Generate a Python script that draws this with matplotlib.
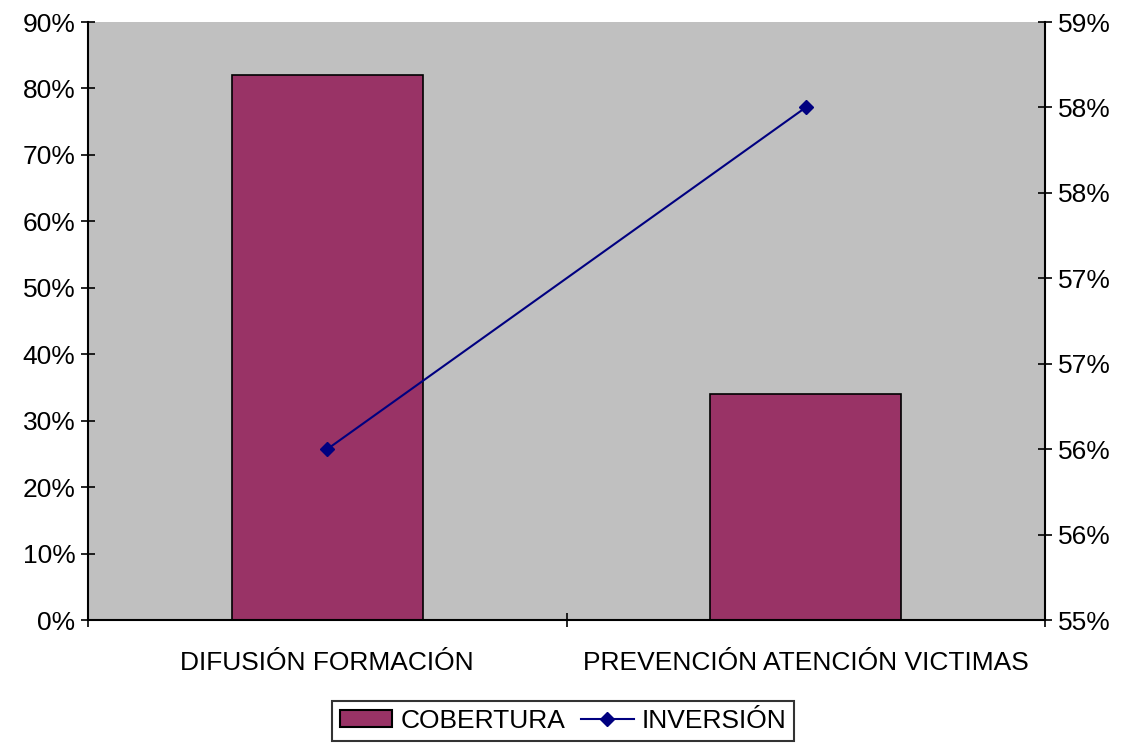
import math

import matplotlib
matplotlib.use("Agg")
import matplotlib.pyplot as plt
from matplotlib.lines import Line2D
from matplotlib.patches import Patch
from matplotlib.ticker import FuncFormatter

plt.rcParams["font.family"] = ["Liberation Sans", "DejaVu Sans"]

categories = ["DIFUSIÓN FORMACIÓN", "PREVENCIÓN ATENCIÓN VICTIMAS"]
cobertura = [82, 34]       # % (left axis)
inversion = [56.0, 58.0]   # % (right axis)

BAR_COLOR = "#993366"
LINE_COLOR = "#000080"
FS = 19


def pct_round(v, _pos=None):
    # Excel-style half-up rounding for the percent labels
    return f"{int(math.floor(v + 0.5 + 1e-9))}%"


fig = plt.figure(figsize=(11.26, 7.47), dpi=100)
ax = fig.add_axes([88 / 1126, 1 - 620 / 747, (1045 - 88) / 1126, (620 - 22) / 747])
ax.set_facecolor("#C0C0C0")

x = list(range(len(categories)))
ax.bar(x, cobertura, width=0.4, color=BAR_COLOR, edgecolor="black", linewidth=1.2, zorder=2)
ax.set_xlim(-0.5, 1.5)
ax.set_ylim(0, 90)
ax.set_yticks(range(0, 91, 10))
ax.yaxis.set_major_formatter(FuncFormatter(lambda v, p: f"{int(v)}%"))

ax.set_xticks([-0.5, 0.5, 1.5])
ax.set_xticklabels([])
ax.set_xticks(x, minor=True)
ax.set_xticklabels(categories, minor=True)
ax.tick_params(axis="x", which="minor", length=0, pad=22, labelsize=FS)
ax.tick_params(axis="x", which="major", direction="inout", length=10, width=1.2)
ax.tick_params(axis="y", direction="inout", length=10, width=1.2, labelsize=FS, pad=4)

ax2 = ax.twinx()
ax2.plot(x, inversion, color=LINE_COLOR, marker="D", markersize=7, linewidth=1.5, zorder=3)
ax2.set_ylim(55, 58.5)
ax2.set_yticks([55 + 0.5 * i for i in range(8)])
ax2.yaxis.set_major_formatter(FuncFormatter(pct_round))
ax2.tick_params(axis="y", direction="inout", length=10, width=1.2, labelsize=FS, pad=4)

for a in (ax, ax2):
    a.spines["top"].set_visible(False)
    for s in ("left", "right", "bottom"):
        a.spines[s].set_linewidth(1.5)
ax.spines["right"].set_visible(False)
ax2.spines["left"].set_visible(False)
ax2.spines["bottom"].set_visible(False)

handles = [
    Patch(facecolor=BAR_COLOR, edgecolor="black", linewidth=1.5),
    Line2D([0], [0], color=LINE_COLOR, marker="D", markersize=7, linewidth=1.5),
]
leg = fig.legend(handles, ["COBERTURA", "INVERSIÓN"], loc="center",
                 bbox_to_anchor=(563 / 1126, 1 - 721 / 747), ncol=2, fontsize=FS,
                 frameon=True, fancybox=False, edgecolor="black",
                 handlelength=2.0, handleheight=0.6, handletextpad=0.3,
                 columnspacing=0.6, borderpad=0.3, borderaxespad=0)
leg.get_frame().set_linewidth(1.5)

fig.savefig("out.png", dpi=100)
